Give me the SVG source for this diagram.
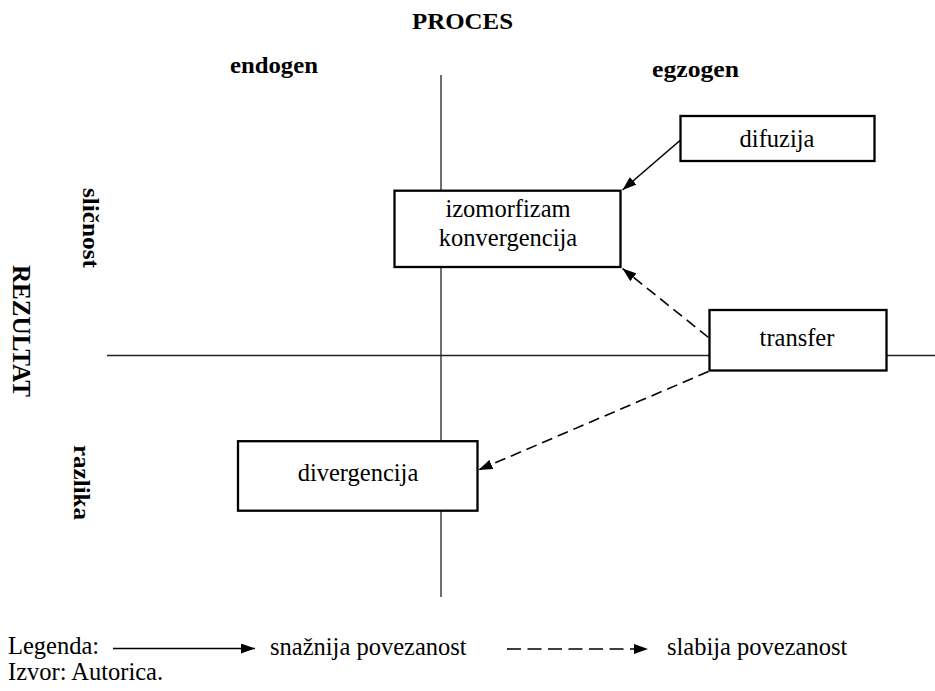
<svg xmlns="http://www.w3.org/2000/svg" width="935" height="691" viewBox="0 0 935 691">
  <style>
    text { font-family: "Liberation Serif", "Times New Roman", Tinos, "DejaVu Serif", serif; fill: #000; }
    .hdr { font-weight: bold; }
    .lbl { font-size: 24.5px; font-weight: normal; }
    .box { fill: #fff; stroke: #000; stroke-width: 2.3; }
    .axis { stroke: #222; stroke-width: 1.3; fill: none; }
    .conn { stroke: #000; stroke-width: 1.6; fill: none; }
    .dash { stroke-dasharray: 11 6; }
  </style>
  <defs>
    <marker id="arr" viewBox="0 0 14 10" refX="14" refY="5" markerWidth="14" markerHeight="10" markerUnits="userSpaceOnUse" orient="auto">
      <path d="M0,0 L14,5 L0,10 z" fill="#000"/>
    </marker>
  </defs>

  <rect width="935" height="691" fill="#fff"/>

  <!-- headings -->
  <text class="hdr" x="412" y="29" font-size="23" textLength="101" lengthAdjust="spacingAndGlyphs">PROCES</text>
  <text class="hdr" x="230" y="73" font-size="24" textLength="88" lengthAdjust="spacingAndGlyphs">endogen</text>
  <text class="hdr" x="652" y="77" font-size="24" textLength="87" lengthAdjust="spacingAndGlyphs">egzogen</text>
  <text class="hdr" transform="translate(83,188) rotate(90)" font-size="24" textLength="80" lengthAdjust="spacingAndGlyphs">sličnost</text>
  <text class="hdr" transform="translate(74,445) rotate(90)" font-size="24" textLength="75" lengthAdjust="spacingAndGlyphs">razlika</text>
  <text class="hdr" transform="translate(13,265) rotate(90)" font-size="26" textLength="132" lengthAdjust="spacingAndGlyphs">REZULTAT</text>

  <!-- axes -->
  <g id="axes">
    <line class="axis" x1="441" y1="75" x2="441" y2="597"/>
    <line class="axis" x1="107" y1="355.5" x2="935" y2="355.5"/>
  </g>

  <!-- nodes -->
  <g id="difuzija">
    <rect class="box" x="680.5" y="116" width="194" height="45"/>
    <text class="lbl" x="777" y="146.5" text-anchor="middle">difuzija</text>
  </g>
  <g id="izomorfizam">
    <rect class="box" x="394.5" y="190.7" width="226" height="76.3"/>
    <text class="lbl" x="508" y="216.5" text-anchor="middle">izomorfizam</text>
    <text class="lbl" x="508" y="246" text-anchor="middle">konvergencija</text>
  </g>
  <g id="transfer">
    <rect class="box" x="709.5" y="310" width="177" height="60.5"/>
    <text class="lbl" x="797" y="346" text-anchor="middle">transfer</text>
  </g>
  <g id="divergencija">
    <rect class="box" x="238" y="441.2" width="239.5" height="69.5"/>
    <text class="lbl" x="358" y="480.5" text-anchor="middle">divergencija</text>
  </g>

  <!-- connectors -->
  <g id="connectors">
    <line class="conn" x1="680" y1="140.5" x2="622.5" y2="190" marker-end="url(#arr)"/>
    <line class="conn dash" x1="708.5" y1="337.5" x2="622.5" y2="268.5" marker-end="url(#arr)"/>
    <line class="conn dash" x1="708.5" y1="371.5" x2="478.5" y2="470" marker-end="url(#arr)"/>
  </g>

  <!-- legend -->
  <g id="legend">
    <text class="lbl" x="8" y="654">Legenda:</text>
    <line class="conn" x1="113" y1="648.5" x2="255" y2="648.5" marker-end="url(#arr)"/>
    <text class="lbl" x="270" y="655">snažnija povezanost</text>
    <line class="conn" x1="507" y1="649" x2="648" y2="649" stroke-dasharray="14 6.5" marker-end="url(#arr)"/>
    <text class="lbl" x="667" y="655">slabija povezanost</text>
    <text class="lbl" x="8" y="680">Izvor: Autorica.</text>
  </g>
</svg>
